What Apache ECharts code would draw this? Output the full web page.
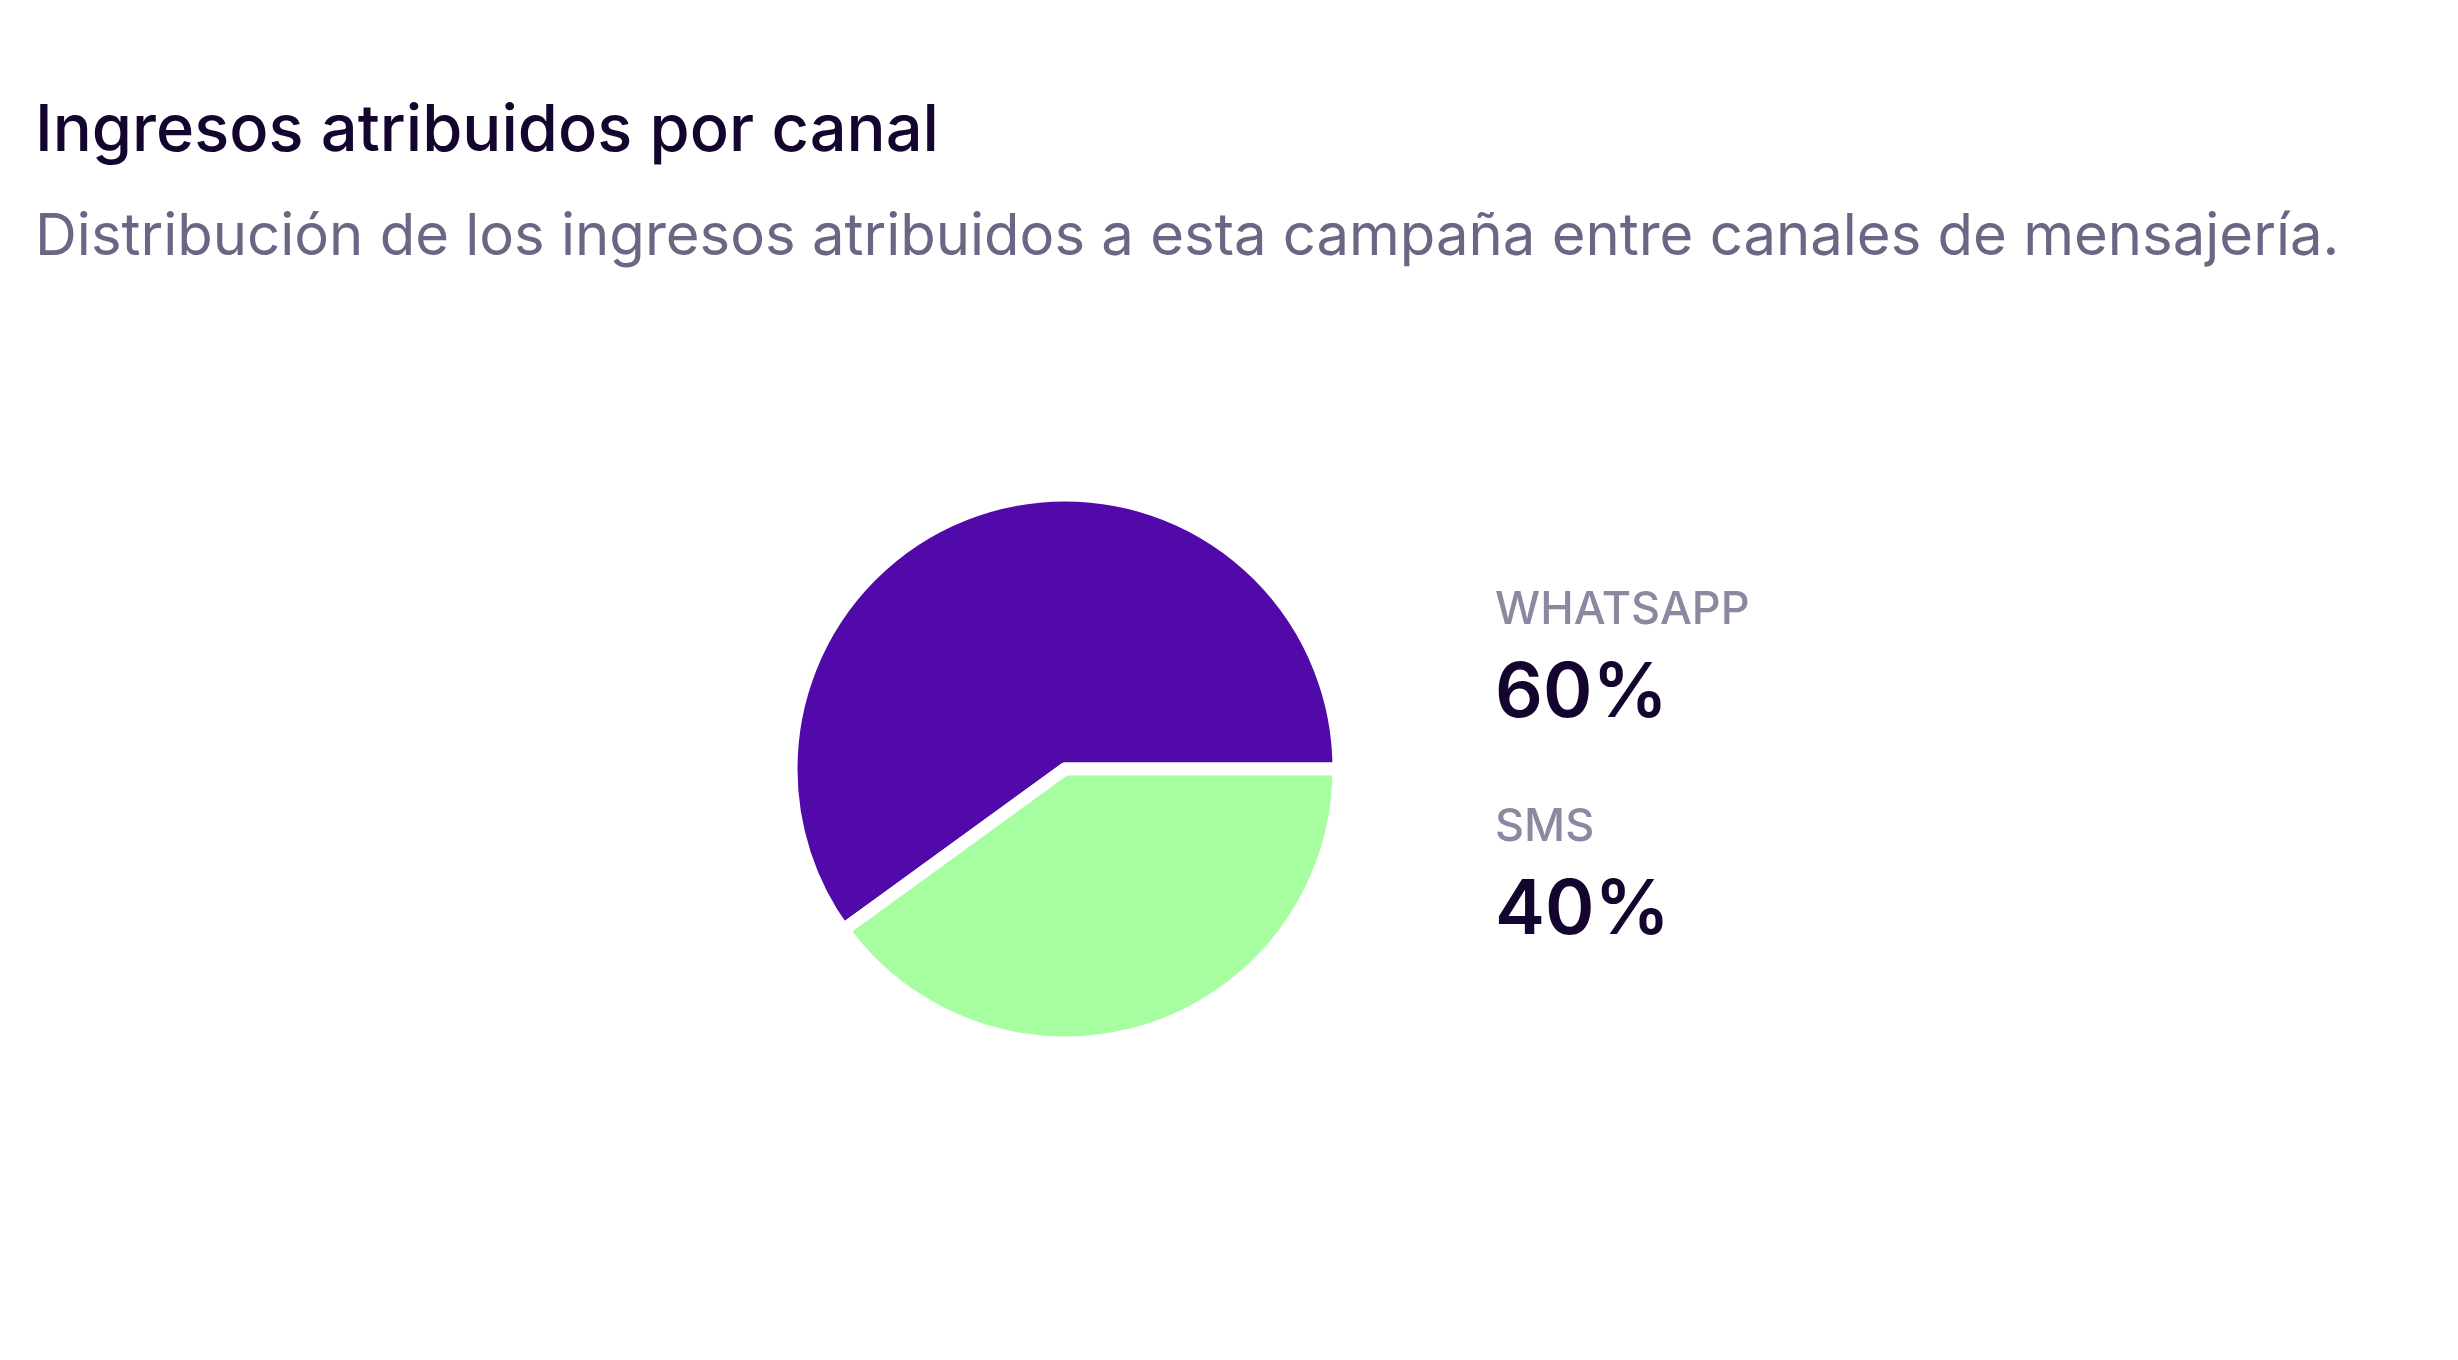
<!DOCTYPE html>
<html>
<head>
<meta charset="utf-8">
<title>Ingresos atribuidos por canal</title>
<script src="https://cdn.jsdelivr.net/npm/echarts@6/dist/echarts.min.js"></script>
<style>
  html, body { margin: 0; padding: 0; background: #ffffff; }
  #chart { width: 2458px; height: 1360px; }
</style>
</head>
<body>
<div id="chart"></div>
<script>
// datos del gráfico
const channels = ['WHATSAPP', 'SMS'];
const shares = [60, 40];
const channelColors = ['#5209a9', '#a6fea0'];

const chart = echarts.init(document.getElementById('chart'));

const option = {
  backgroundColor: '#ffffff',
  textStyle: { fontFamily: 'Inter' },
  title: {
    text: 'Ingresos atribuidos por canal',
    subtext: 'Distribución de los ingresos atribuidos a esta campaña entre canales de mensajería.',
    left: 30,
    top: 94,
    itemGap: 45,
    textStyle: {
      fontFamily: 'Inter',
      fontSize: 65,
      fontWeight: 500,
      color: '#14052e'
    },
    subtextStyle: {
      fontFamily: 'Inter',
      fontSize: 58,
      fontWeight: 400,
      color: '#6e6585'
    }
  },
  legend: {
    orient: 'vertical',
    left: 1485,
    top: 583,
    icon: 'none',
    itemWidth: 0,
    itemHeight: 0,
    itemGap: 73,
    selectedMode: false,
    data: channels,
    formatter: function (name) {
      const i = channels.indexOf(name);
      return '{label|' + name + '}\n{value|' + shares[i] + '%}';
    },
    textStyle: {
      rich: {
        label: {
          fontFamily: 'Inter',
          fontSize: 45,
          fontWeight: 500,
          color: '#8e879f',
          lineHeight: 64
        },
        value: {
          fontFamily: 'Inter',
          fontSize: 75,
          fontWeight: 600,
          color: '#14052e',
          lineHeight: 104
        }
      }
    }
  },
  series: [
    {
      type: 'pie',
      center: [1065, 769],
      radius: 274,
      startAngle: 0,
      clockwise: false,
      label: { show: false },
      labelLine: { show: false },
      emphasis: { disabled: true },
      itemStyle: {
        borderColor: '#ffffff',
        borderWidth: 13
      },
      data: channels.map((name, i) => ({
        name: name,
        value: shares[i],
        itemStyle: { color: channelColors[i] }
      }))
    }
  ]
};

chart.setOption(option);
</script>
</body>
</html>
